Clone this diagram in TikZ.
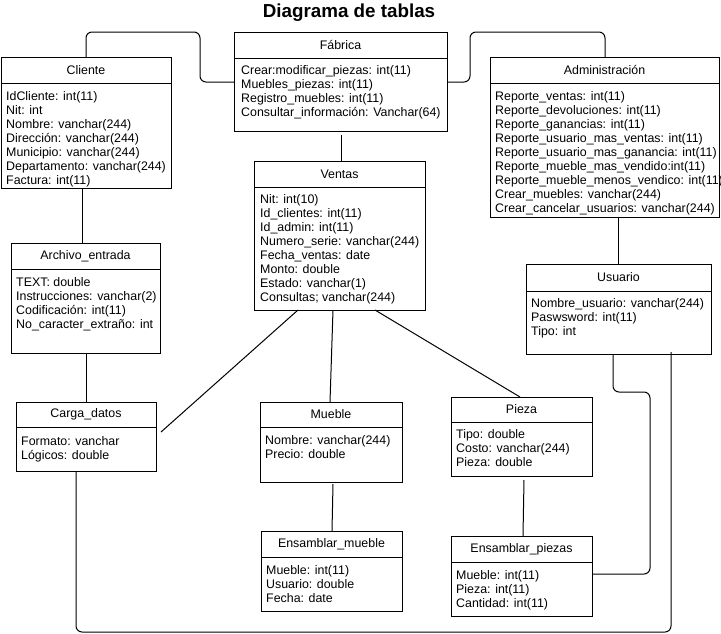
\documentclass[tikz,border=0pt]{standalone}
\usepackage{fontspec}
\setmainfont{Liberation Sans}
\usepackage{tikz}

\tikzset{
    cabecera/.style={draw, line width=1pt, outer sep=0pt, inner sep=0pt, anchor=north west,
        font=\fontsize{12.4}{14}\selectfont},
    cuerpo/.style={draw, line width=1pt, outer sep=0pt, inner sep=0pt, anchor=north west},
    campos/.style={anchor=base west, inner sep=0pt, font=\fontsize{12.4}{14}\selectfont},
    enlace/.style={draw, line width=1pt, rounded corners=6pt},
}

\begin{document}
\begin{tikzpicture}[x=1pt, y=-1pt]
    \useasboundingbox (0,0) rectangle (721,633);

    \node[font=\bfseries\fontsize{18.8}{20}\selectfont] (titulo) at (349,13) {Diagrama de tablas};

    % Cliente
    \node[cabecera, minimum width=170, minimum height=26] (cliente) at (1,57) {Cliente};
    \node[cuerpo, minimum width=170, minimum height=105] (clienteb) at (cliente.south west) {};
    \node[campos] (clientet) at ([xshift=5, yshift=-17]clienteb.north west)
        {\begin{tabular}[t]{@{}l@{}}IdCliente: int(11)\\ Nit: int\\ Nombre: vanchar(244)\\ Dirección: vanchar(244)\\
         Municipio: vanchar(244)\\ Departamento: vanchar(244)\\ Factura: int(11)\end{tabular}};

    % Fabrica
    \node[cabecera, minimum width=213, minimum height=26] (fabrica) at (234,32) {Fábrica};
    \node[cuerpo, minimum width=213, minimum height=73] (fabricab) at (fabrica.south west) {};
    \node[campos] (fabricat) at ([xshift=7, yshift=-16]fabricab.north west)
        {\begin{tabular}[t]{@{}l@{}}Crear:modificar\_piezas: int(11)\\ Muebles\_piezas: int(11)\\
         Registro\_muebles: int(11)\\ Consultar\_información: Vanchar(64)\end{tabular}};

    % Administracion
    \node[cabecera, minimum width=229, minimum height=26] (admin) at (490,57) {Administración};
    \node[cuerpo, minimum width=229, minimum height=134] (adminb) at (admin.south west) {};
    \node[campos] (admint) at ([xshift=5, yshift=-17]adminb.north west)
        {\begin{tabular}[t]{@{}l@{}}Reporte\_ventas: int(11)\\ Reporte\_devoluciones: int(11)\\ Reporte\_ganancias: int(11)\\
         Reporte\_usuario\_mas\_ventas: int(11)\\ Reporte\_usuario\_mas\_ganancia: int(11)\\
         Reporte\_mueble\_mas\_vendido:int(11)\\ Reporte\_mueble\_menos\_vendico: int(11)\\
         Crear\_muebles: vanchar(244)\\ Crear\_cancelar\_usuarios: vanchar(244)\end{tabular}};

    % Ventas
    \node[cabecera, minimum width=171, minimum height=26] (ventas) at (254,161) {Ventas};
    \node[cuerpo, minimum width=171, minimum height=123] (ventasb) at (ventas.south west) {};
    \node[campos] (ventast) at ([xshift=6, yshift=-16]ventasb.north west)
        {\begin{tabular}[t]{@{}l@{}}Nit: int(10)\\ Id\_clientes: int(11)\\ Id\_admin: int(11)\\ Numero\_serie: vanchar(244)\\
         Fecha\_ventas: date\\ Monto: double\\ Estado: vanchar(1)\\ Consultas; vanchar(244)\end{tabular}};

    % Archivo_entrada
    \node[cabecera, minimum width=149, minimum height=26] (archivo) at (11,243) {Archivo\_entrada};
    \node[cuerpo, minimum width=149, minimum height=84] (archivob) at (archivo.south west) {};
    \node[campos] (archivot) at ([xshift=5, yshift=-17]archivob.north west)
        {\begin{tabular}[t]{@{}l@{}}TEXT: double\\ Instrucciones: vanchar(2)\\ Codificación: int(11)\\ No\_caracter\_extraño: int\end{tabular}};

    % Carga_datos
    \node[cabecera, minimum width=140, minimum height=25] (carga) at (16,402) {Carga\_datos};
    \node[cuerpo, minimum width=140, minimum height=44] (cargab) at (carga.south west) {};
    \node[campos] (cargat) at ([xshift=5, yshift=-18]cargab.north west)
        {\begin{tabular}[t]{@{}l@{}}Formato: vanchar\\ Lógicos: double\end{tabular}};

    % Mueble
    \node[cabecera, minimum width=142, minimum height=25] (mueble) at (260,402) {Mueble};
    \node[cuerpo, minimum width=142, minimum height=55] (muebleb) at (mueble.south west) {};
    \node[campos] (mueblet) at ([xshift=5, yshift=-17]muebleb.north west)
        {\begin{tabular}[t]{@{}l@{}}Nombre: vanchar(244)\\ Precio: double\end{tabular}};

    % Pieza
    \node[cabecera, minimum width=141, minimum height=25] (pieza) at (451,397) {Pieza};
    \node[cuerpo, minimum width=141, minimum height=54] (piezab) at (pieza.south west) {};
    \node[campos] (piezat) at ([xshift=5, yshift=-16]piezab.north west)
        {\begin{tabular}[t]{@{}l@{}}Tipo: double\\ Costo: vanchar(244)\\ Pieza: double\end{tabular}};

    % Ensamblar_mueble
    \node[cabecera, minimum width=141, minimum height=26] (ensmueble) at (261,531) {Ensamblar\_mueble};
    \node[cuerpo, minimum width=141, minimum height=54] (ensmuebleb) at (ensmueble.south west) {};
    \node[campos] (ensmueblet) at ([xshift=5, yshift=-17]ensmuebleb.north west)
        {\begin{tabular}[t]{@{}l@{}}Mueble: int(11)\\ Usuario: double\\ Fecha: date\end{tabular}};

    % Ensamblar_piezas
    \node[cabecera, minimum width=141, minimum height=26] (enspiezas) at (451,536) {Ensamblar\_piezas};
    \node[cuerpo, minimum width=141, minimum height=54] (enspiezasb) at (enspiezas.south west) {};
    \node[campos] (enspiezast) at ([xshift=5, yshift=-17]enspiezasb.north west)
        {\begin{tabular}[t]{@{}l@{}}Mueble: int(11)\\ Pieza: int(11)\\ Cantidad: int(11)\end{tabular}};

    % Usuario
    \node[cabecera, minimum width=185, minimum height=27] (usuario) at (526,264) {Usuario};
    \node[cuerpo, minimum width=185, minimum height=63] (usuariob) at (usuario.south west) {};
    \node[campos] (usuariot) at ([xshift=5, yshift=-16]usuariob.north west)
        {\begin{tabular}[t]{@{}l@{}}Nombre\_usuario: vanchar(244)\\ Paswsword: int(11)\\ Tipo: int\end{tabular}};

    % conexiones
    \draw[enlace] ([xshift=85]cliente.north west) |- ([xshift=-34]fabrica.north west)
        -- ([xshift=-34, yshift=-50]fabrica.north west) -- ([yshift=-50]fabrica.north west);
    \draw[enlace] ([yshift=-50]fabrica.north east) -- ([xshift=23, yshift=-50]fabrica.north east)
        -- ([xshift=23]fabrica.north east) -| ([xshift=115]admin.north west);
    \draw[enlace] ([xshift=81]clienteb.south west) -- ([xshift=71]archivo.north west);
    \draw[enlace] ([xshift=75]archivob.south west) -- ([xshift=70]carga.north west);
    \draw[enlace] ([xshift=107, yshift=-4]fabricab.south west) -- ([xshift=87]ventas.north west);
    \draw[enlace] ([xshift=44]ventasb.south west) -- ([xshift=5, yshift=-5]cargab.north east);
    \draw[enlace] ([xshift=79]ventasb.south west) -- ([xshift=70]mueble.north west);
    \draw[enlace] ([xshift=121]ventasb.south west) -- ([xshift=69]pieza.north west);
    \draw[enlace] ([xshift=73, yshift=-2]muebleb.south west) -- ([xshift=71]ensmueble.north west);
    \draw[enlace] ([xshift=73, yshift=-4]piezab.south west) -- ([xshift=72]enspiezas.north west);
    \draw[enlace] ([xshift=128]adminb.south west) -- ([xshift=92]usuario.north west);
    \draw[enlace] ([xshift=87]usuariob.south west) -- ++(0,38) -- ++(37,0)
        |- ([xshift=1, yshift=-12]enspiezasb.north east);
    \draw[enlace] ([xshift=60]cargab.south west) -- ++(0,161)
        -| ([xshift=145, yshift=2]usuariob.south west);
\end{tikzpicture}
\end{document}
